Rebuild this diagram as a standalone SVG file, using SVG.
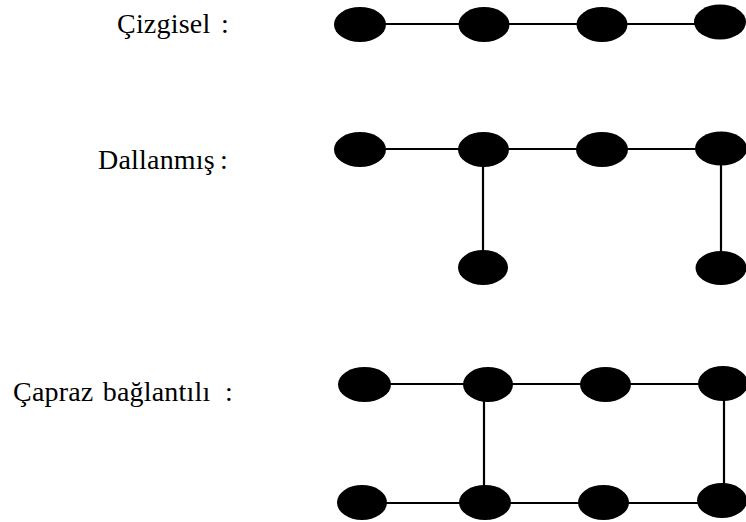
<svg xmlns="http://www.w3.org/2000/svg" width="746" height="522" viewBox="0 0 746 522">
<style>
.lbl{font-family:"Liberation Serif","Times New Roman",serif;font-size:28px;fill:#000;letter-spacing:0.2px;word-spacing:2px}
.n{fill:#000}
.e{stroke:#000;stroke-width:2.2;fill:none}
</style>
<rect width="746" height="522" fill="#fff"/>
<g id="labels">
<text class="lbl" x="117" y="33">Çizgisel</text><text class="lbl" x="221" y="33">:</text>
<text class="lbl" x="98" y="169">Dallanmış</text><text class="lbl" x="220" y="169">:</text>
<text class="lbl" x="13" y="401">Çapraz bağlantılı</text><text class="lbl" x="225" y="401">:</text>
</g>
<g id="connectors">
<line class="e" x1="360" y1="24" x2="720" y2="24"/>
<line class="e" x1="360" y1="149" x2="721" y2="149"/>
<line class="e" x1="483" y1="149" x2="483" y2="267"/>
<line class="e" x1="721" y1="149" x2="721" y2="268"/>
<line class="e" x1="364" y1="384" x2="723" y2="384"/>
<line class="e" x1="362" y1="503" x2="722" y2="503"/>
<line class="e" x1="484" y1="384" x2="484" y2="503"/>
<line class="e" x1="724" y1="384" x2="724" y2="503"/>
</g>
<g id="n1a"><ellipse class="n" cx="360" cy="24.5" rx="26" ry="17.5"/></g>
<g id="n1b"><ellipse class="n" cx="484" cy="24.5" rx="25.5" ry="17.5"/></g>
<g id="n1c"><ellipse class="n" cx="602" cy="24.5" rx="25.5" ry="17.5"/></g>
<g id="n1d"><ellipse class="n" cx="720" cy="22" rx="26" ry="17.5"/></g>
<g id="n2a"><ellipse class="n" cx="360" cy="149.5" rx="26" ry="17.5"/></g>
<g id="n2b"><ellipse class="n" cx="483.5" cy="149.5" rx="25.5" ry="17.5"/></g>
<g id="n2c"><ellipse class="n" cx="602" cy="149.5" rx="26" ry="17.5"/></g>
<g id="n2d"><ellipse class="n" cx="721" cy="148.5" rx="26" ry="17"/></g>
<g id="n2e"><ellipse class="n" cx="483" cy="267.5" rx="25" ry="17.5"/></g>
<g id="n2f"><ellipse class="n" cx="721" cy="268" rx="25.5" ry="17"/></g>
<g id="n3a"><ellipse class="n" cx="364.5" cy="384.5" rx="26.5" ry="17.5"/></g>
<g id="n3b"><ellipse class="n" cx="488" cy="384.5" rx="25" ry="17.5"/></g>
<g id="n3c"><ellipse class="n" cx="605.5" cy="384.5" rx="25.5" ry="17.5"/></g>
<g id="n3d"><ellipse class="n" cx="723" cy="383.5" rx="25" ry="17.5"/></g>
<g id="n3e"><ellipse class="n" cx="362" cy="502.5" rx="25" ry="17.5"/></g>
<g id="n3f"><ellipse class="n" cx="485" cy="502.5" rx="26" ry="17.5"/></g>
<g id="n3g"><ellipse class="n" cx="603.5" cy="502.5" rx="25.5" ry="17.5"/></g>
<g id="n3h"><ellipse class="n" cx="722" cy="500.5" rx="25" ry="17.5"/></g>
</svg>
